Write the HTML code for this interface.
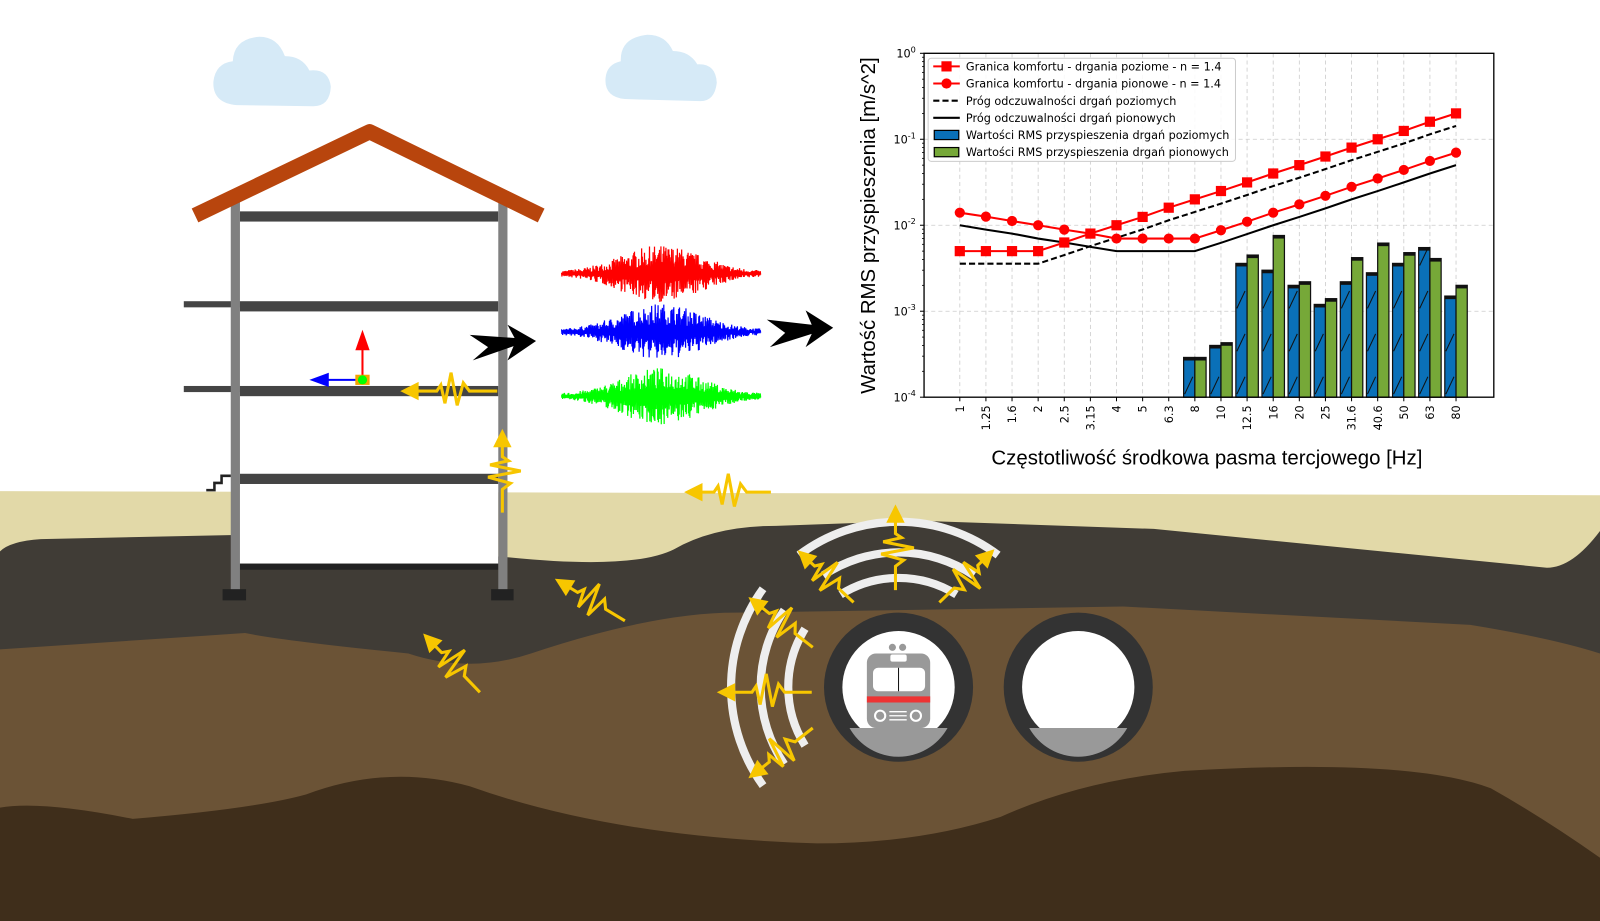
<!DOCTYPE html>
<html><head><meta charset="utf-8"><style>html,body{margin:0;padding:0;background:#fff;overflow:hidden}svg{display:block}</style></head>
<body>
<svg id="s" width="1600" height="921" viewBox="0 0 1567 902" xmlns="http://www.w3.org/2000/svg">
<rect width="1567" height="902" fill="#fff"/>
<g fill="#d6eaf7">
<path d="M232,103 Q208,101 209,80 Q211,62 228,60 Q229,38 254,36 Q272,36 279,55 Q296,55 303,69 Q322,67 324,85 Q323,104 307,104 Z"/>
<path d="M612,97 Q592,95 593,77 Q594,63 608,60 Q607,37 634,34 Q652,34 659,50 Q675,50 683,63 Q701,62 702,81 Q700,99 686,99 Z"/>
</g>
<path d="M0,481 L1567,485 L1567,902 L0,902 Z" fill="#e2d9a8"/>
<path d="M0,540 Q10,530 40,528 L230,524 L500,546 Q620,558 660,538 Q700,515 760,515 L900,510 L1130,518 L1515,556 Q1540,556 1567,520 L1567,902 L0,902 Z" fill="#403c36"/>
<path d="M0,636 L240,620 Q280,628 400,640 Q460,660 520,640 Q640,600 720,600 L1100,594 L1440,612 Q1520,625 1567,640 L1567,902 L0,902 Z" fill="#6b5336"/>
<path d="M0,791 Q40,784 130,802 Q250,792 300,778 Q380,748 460,770 Q600,820 800,826 Q900,826 980,800 Q1060,764 1160,755 Q1380,742 1460,772 Q1510,800 1567,840 L1567,902 L0,902 Z" fill="#3f2e1b"/>
<rect x="234" y="200" width="254" height="352" fill="#fff"/>
<g fill="#444">
<rect x="235" y="207" width="253" height="10"/>
<rect x="235" y="295" width="253" height="10"/>
<rect x="235" y="378" width="253" height="10"/>
<rect x="235" y="464" width="253" height="10"/>
<rect x="180" y="295" width="55" height="6"/>
<rect x="180" y="378" width="55" height="6"/>
</g>
<rect x="235" y="552" width="253" height="6" fill="#222"/>
<rect x="226" y="195" width="9" height="385" fill="#808080"/>
<rect x="488" y="195" width="9" height="385" fill="#808080"/>
<rect x="218" y="577" width="23" height="11" fill="#222"/>
<rect x="481" y="577" width="22" height="11" fill="#222"/>
<path d="M202,480 L210,480 L210,473 L217,473 L217,466 L226,466" fill="none" stroke="#222" stroke-width="2.5"/>
<path d="M191,211 L362,129 L530,211" fill="none" stroke="#b8450d" stroke-width="15" stroke-linejoin="round"/>
<line x1="355" y1="372" x2="355" y2="338" stroke="#f00" stroke-width="2"/>
<polygon points="355,323 348,343 362,343" fill="#f00"/>
<line x1="350" y1="372" x2="318" y2="372" stroke="#00f" stroke-width="2"/>
<polygon points="303,372 322,365 322,379" fill="#00f"/>
<rect x="348" y="367" width="14" height="10" fill="#f5a500"/>
<circle cx="355" cy="372" r="4.5" fill="#0f0"/>
<!-- black arrows -->
<polygon points="460,328 504,331 497,318 525,334 497,353 503,339 463,353 478,340" fill="#000"/>
<polygon points="751,313 795,318 789,304 816,321 789,340 795,327 754,340 769,326" fill="#000"/>
<circle cx="880" cy="673" r="73" fill="#333"/>
<circle cx="880" cy="673" r="55" fill="#fff"/>
<path d="M832,713 L928,713 A55,55 0 0 1 832,713 Z" fill="#999"/>
<circle cx="1056" cy="673" r="73" fill="#333"/>
<circle cx="1056" cy="673" r="55" fill="#fff"/>
<path d="M1008,713 L1104,713 A55,55 0 0 1 1008,713 Z" fill="#999"/>
<rect x="849" y="640" width="62" height="73" rx="9" fill="#999"/>
<circle cx="874" cy="634" r="3.5" fill="#999"/><circle cx="884" cy="634" r="3.5" fill="#999"/>
<rect x="872" y="641" width="16" height="7" rx="2" fill="#fff"/>
<rect x="855" y="654" width="51" height="23" rx="5" fill="#fff"/>
<line x1="880" y1="654" x2="880" y2="677" stroke="#111" stroke-width="1"/>
<rect x="849" y="682" width="62" height="6" fill="#e33"/>
<circle cx="862" cy="701" r="5" fill="none" stroke="#fff" stroke-width="2"/>
<circle cx="897" cy="701" r="5" fill="none" stroke="#fff" stroke-width="2"/>
<path d="M871,697 H888 M871,701 H888 M871,705 H888" stroke="#fff" stroke-width="1.3"/>
<g id="arcs" fill="none" stroke="#eee" stroke-width="8"></g>
<g id="yel"></g>
<g id="sig"></g>
<g id="chart" font-family="'DejaVu Sans','Liberation Sans',sans-serif"></g>
</svg>
<script>
var NS="http://www.w3.org/2000/svg";
function el(p,t,a,txt){var e=document.createElementNS(NS,t);for(var k in a)e.setAttribute(k,a[k]);if(txt!==undefined)e.textContent=txt;document.getElementById(p).appendChild(e);return e;}
function arc(cx,cy,r,a0,a1){var p=function(a){return [cx+r*Math.cos(a*Math.PI/180),cy+r*Math.sin(a*Math.PI/180)];};var s=p(a0),e=p(a1);
el("arcs","path",{d:"M"+s[0]+","+s[1]+" A"+r+","+r+" 0 0 1 "+e[0]+","+e[1]});}
[[162,233,307],[132,236,304],[107,238,302]].forEach(function(a){arc(880,673,a[0],a[1],a[2]);});
[[164,144,216],[135,146,214],[108,148,212]].forEach(function(a){arc(880,673,a[0],a[1],a[2]);});
function wave(x,y,ang,L){var g=el("yel","g",{transform:"translate("+x+","+y+") rotate("+ang+")"});
var z=L*0.35;var d="M0,0 L"+(-z+6)+",0 L"+(-z)+",-8 L"+(-z-6)+",14 L"+(-z-12)+",-18 L"+(-z-18)+",12 L"+(-z-22)+",-6 L"+(-z-26)+",0 L"+(-L+14)+",0";
var p=document.createElementNS(NS,"path");p.setAttribute("d",d);p.setAttribute("fill","none");p.setAttribute("stroke","#f7c600");p.setAttribute("stroke-width","3");g.appendChild(p);
var t=document.createElementNS(NS,"polygon");t.setAttribute("points",(-L)+",0 "+(-L+18)+",-9 "+(-L+18)+",9");t.setAttribute("fill","#f7c600");g.appendChild(t);}
wave(487,383,0,95);wave(492,502,90,82);wave(755,482,0,85);wave(612,608,31,80);wave(470,678,46,80);
wave(877,578,90,84);wave(836,590,43,75);wave(920,590,136,75);wave(795,678,0,93);wave(796,634,38,80);wave(796,713,-38,80);
var seed=7;function rnd(){seed=(seed*16807)%2147483647;return seed/2147483647;}
[["#f00",268],["#00f",325],["#0f0",388]].forEach(function(c){var d="";var sg=1;for(var x=550;x<=745;x+=0.35){var t=(x-648)/55;var env=2+26*Math.exp(-t*t);sg=-sg;var v=sg*env*(0.25+0.75*Math.pow(rnd(),1.5));d+=(d?"L":"M")+x.toFixed(2)+","+(c[1]+v).toFixed(1);}
el("sig","path",{d:d,fill:"none",stroke:c[0],"stroke-width":"1.2"});});
var L=905,R=1463,T=52.2,B=389;var D=(B-T)/4;
function Y(v){return T-Math.log10(v)*D;}
var f=["1","1.25","1.6","2","2.5","3.15","4","5","6.3","8","10","12.5","16","20","25","31.6","40.6","50","63","80"];
function X(i){return 940+i*(1426-940)/19;}
for(var i=0;i<20;i++)el("chart","line",{x1:X(i),y1:T,x2:X(i),y2:B,stroke:"#ccc","stroke-dasharray":"4,3","stroke-width":"0.8"});
for(var k=1;k<4;k++)el("chart","line",{x1:L,y1:T+k*D,x2:R,y2:T+k*D,stroke:"#ccc","stroke-dasharray":"4,3","stroke-width":"0.8"});
var bh=[0,0,0,0,0,0,0,0,0,0.00029,0.0004,0.0036,0.003,0.002,0.0012,0.0022,0.0028,0.0036,0.0055,0.0015];
var bv=[0,0,0,0,0,0,0,0,0,0.00029,0.00043,0.0045,0.0076,0.0022,0.0014,0.0042,0.0062,0.0048,0.0041,0.002];
for(var i=9;i<20;i++){var w=11;[[bh[i],"#0a70b8",X(i)-w],[bv[i],"#76a838",X(i)]].forEach(function(b){var y=Y(b[0]);
el("chart","rect",{x:b[2],y:y,width:w,height:B-y,fill:b[1],stroke:"#111","stroke-width":"1.2"});el("chart","rect",{x:b[2],y:y,width:w,height:3,fill:"#111"});});
var yy=B;while(yy>Y(bh[i])+20){el("chart","line",{x1:X(i)-10,y1:yy-3,x2:X(i)-2,y2:yy-20,stroke:"#111","stroke-width":"1"});yy-=42;}}
var h=[0.005,0.005,0.005,0.005,0.0063,0.008,0.01,0.0125,0.016,0.02,0.025,0.0315,0.04,0.05,0.063,0.08,0.1,0.125,0.16,0.2];
var v=[0.014,0.0126,0.0112,0.01,0.0089,0.008,0.007,0.007,0.007,0.007,0.00875,0.011,0.014,0.0175,0.022,0.028,0.035,0.044,0.056,0.07];
function pts(a,s){return a.map(function(q,i){return X(i)+","+Y(q*s);}).join(" ");}
el("chart","polyline",{points:pts(h,1/1.4),fill:"none",stroke:"#000","stroke-width":"2","stroke-dasharray":"6,3"});
el("chart","polyline",{points:pts([0.01,0.0089,0.008,0.007,0.0063,0.0056,0.005,0.005,0.005,0.005,0.00625,0.0079,0.01,0.0125,0.0157,0.02,0.025,0.0315,0.04,0.05],1),fill:"none",stroke:"#000","stroke-width":"2"});
el("chart","polyline",{points:pts(h,1),fill:"none",stroke:"#f00","stroke-width":"2"});
el("chart","polyline",{points:pts(v,1),fill:"none",stroke:"#f00","stroke-width":"2"});
h.forEach(function(q,i){el("chart","rect",{x:X(i)-5,y:Y(q)-5,width:10,height:10,fill:"#f00"});});
v.forEach(function(q,i){el("chart","circle",{cx:X(i),cy:Y(q),r:5,fill:"#f00"});});
el("chart","rect",{x:L,y:T,width:R-L,height:B-T,fill:"none",stroke:"#000","stroke-width":"1.3"});
for(var k=0;k<=4;k++){var yk=T+k*D;el("chart","line",{x1:L-4,y1:yk,x2:L,y2:yk,stroke:"#000"});
var t=el("chart","text",{x:L-8,y:yk+4,"font-size":"11","text-anchor":"end"},"10");var s=document.createElementNS(NS,"tspan");s.setAttribute("dy","-5");s.setAttribute("font-size","8");s.textContent=k?"-"+k:"0";t.appendChild(s);
for(var m=2;m<10&&k<4;m++){var ym=yk+D-Math.log10(m)*D;el("chart","line",{x1:L-2,y1:ym,x2:L,y2:ym,stroke:"#000","stroke-width":"0.8"});}}
f.forEach(function(s,i){el("chart","line",{x1:X(i),y1:B,x2:X(i),y2:B+4,stroke:"#000"});
el("chart","text",{x:0,y:0,"font-size":"11","text-anchor":"end",transform:"translate("+(X(i)+4)+","+(B+8)+") rotate(-90)"},s);});
el("chart","text",{x:1182,y:455,"font-size":"20","text-anchor":"middle","font-family":"'Liberation Sans',sans-serif"},"Częstotliwość środkowa pasma tercjowego [Hz]");
el("chart","text",{x:0,y:0,"font-size":"20","text-anchor":"middle","font-family":"'Liberation Sans',sans-serif",transform:"translate(857,221) rotate(-90)"},"Wartość RMS przyspieszenia [m/s^2]");
el("chart","rect",{x:909,y:57,width:301,height:101,fill:"#fff","fill-opacity":"0.85",stroke:"#ccc",rx:3});
var lg=["Granica komfortu - drgania poziome - n = 1.4","Granica komfortu - drgania pionowe - n = 1.4","Próg odczuwalności drgań poziomych","Próg odczuwalności drgań pionowych","Wartości RMS przyspieszenia drgań poziomych","Wartości RMS przyspieszenia drgań pionowych"];
lg.forEach(function(s,i){var y=65+i*16.8;
if(i<2){el("chart","line",{x1:914,y1:y,x2:940,y2:y,stroke:"#f00","stroke-width":"2"});if(i==0)el("chart","rect",{x:922,y:y-5,width:10,height:10,fill:"#f00"});else el("chart","circle",{cx:927,cy:y,r:5,fill:"#f00"});}
else if(i<4)el("chart","line",{x1:914,y1:y,x2:940,y2:y,stroke:"#000","stroke-width":"2","stroke-dasharray":i==2?"6,3":"none"});
else el("chart","rect",{x:915,y:y-4.5,width:24,height:9,fill:i==4?"#0a70b8":"#76a838",stroke:"#000","stroke-width":"1.2"});
el("chart","text",{x:946,y:y+4,"font-size":"11"},s);});
</script>
</body></html>
